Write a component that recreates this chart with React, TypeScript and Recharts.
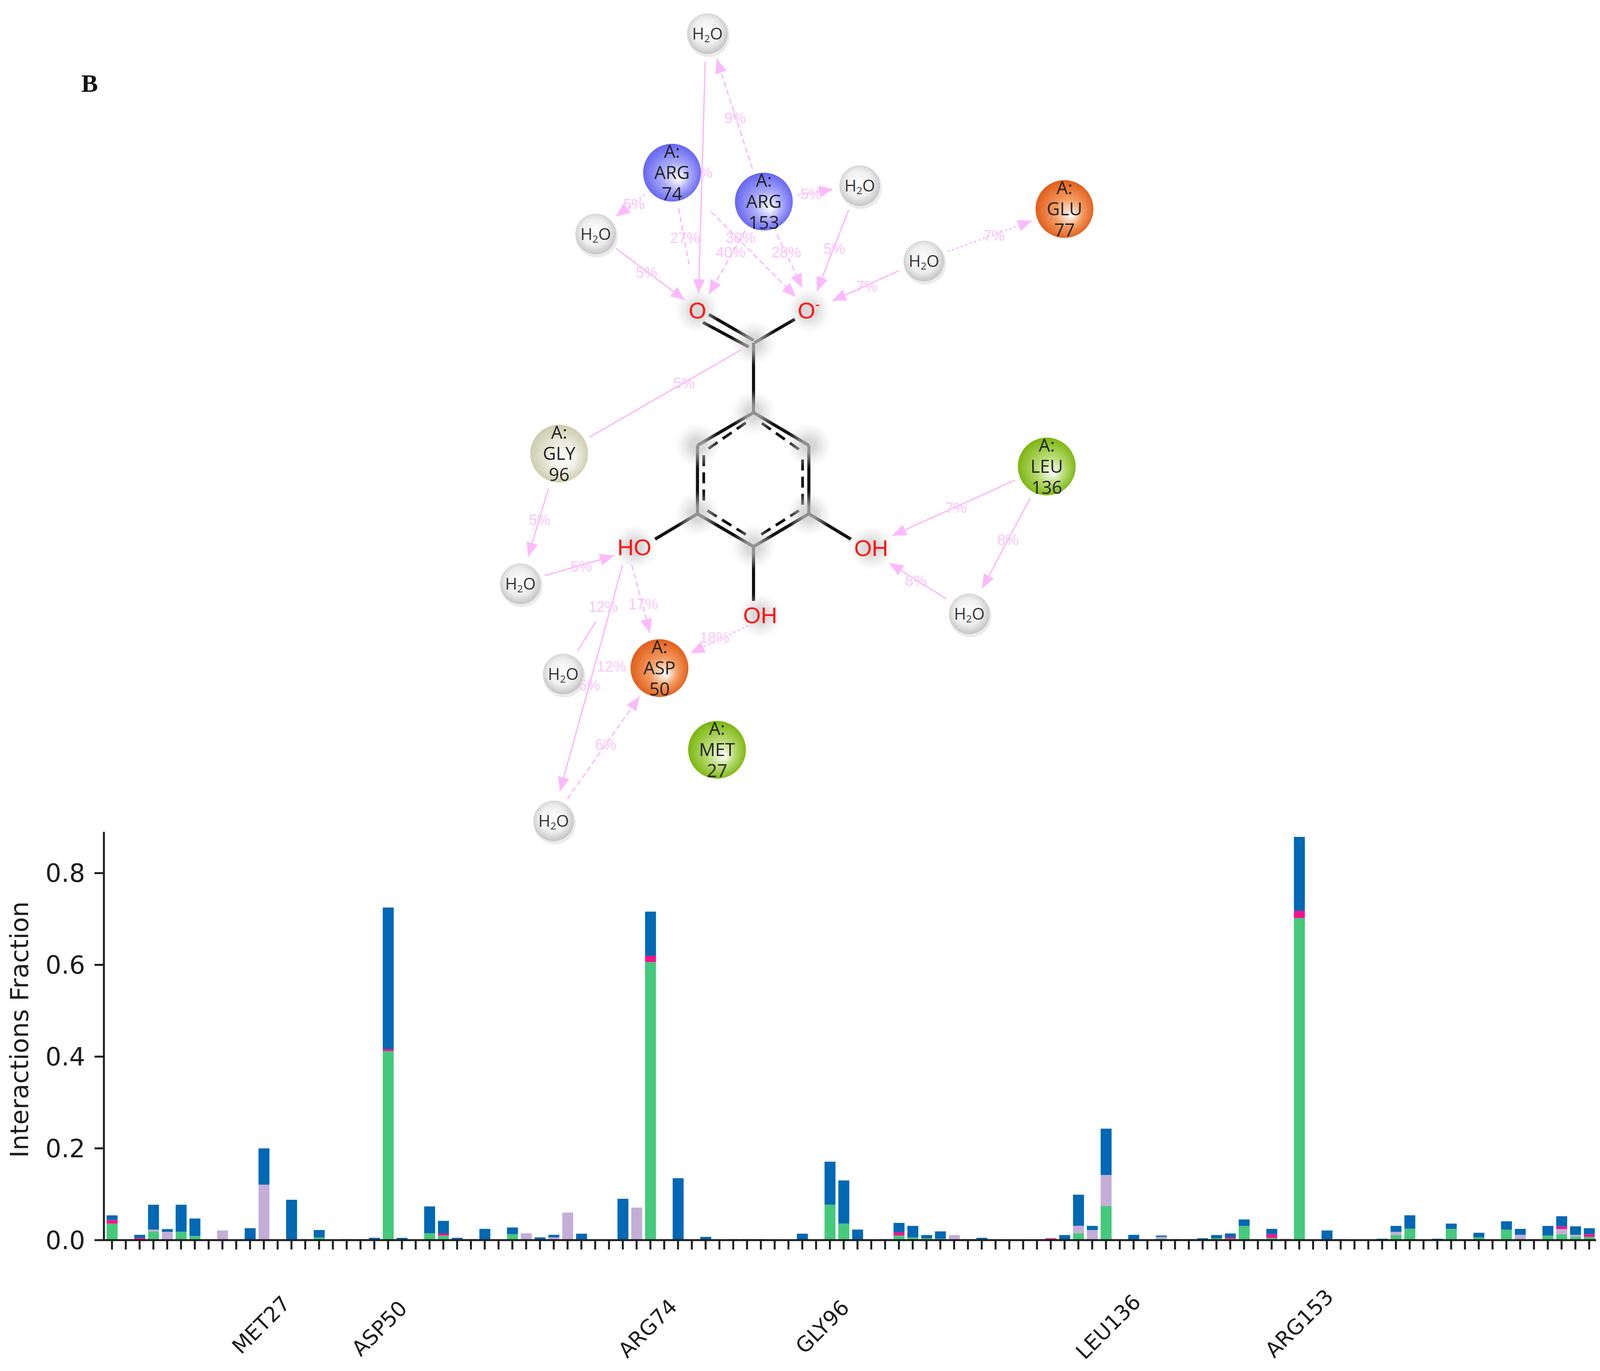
import { BarChart, Bar, XAxis, YAxis, Label, ScatterChart, Scatter, ReferenceLine } from 'recharts';

// the browser window stops at 4096 wide, the reference is 4338: x positions are compressed to fit
const WIDTH = 4096;
const HEIGHT = 3509;
const REF_WIDTH = 4338;

const hbonds = [
  0.036, 0, 0, 0.019, 0, 0.018, 0.009, 0, 0, 0, 0, 0,
  0, 0, 0, 0.006, 0, 0, 0, 0, 0.412, 0.001, 0, 0.015,
  0.01, 0, 0, 0, 0, 0.013, 0, 0, 0, 0, 0, 0,
  0, 0, 0, 0.606, 0, 0, 0, 0, 0, 0, 0, 0,
  0, 0, 0, 0, 0.077, 0.036, 0, 0, 0, 0.01, 0.006, 0.004,
  0.003, 0, 0, 0, 0, 0, 0, 0, 0, 0, 0.0145, 0,
  0.074, 0, 0.001, 0, 0.003, 0, 0, 0, 0.004, 0.003, 0.031, 0,
  0.005, 0, 0.702, 0, 0, 0, 0, 0, 0, 0.0115, 0.025, 0,
  0, 0.0245, 0, 0.006, 0, 0.023, 0.003, 0, 0.01, 0.013, 0.0075, 0.007,
];

const hydrophobic = [
  0, 0, 0, 0.004, 0.018, 0, 0, 0.002, 0.021, 0, 0, 0.121,
  0, 0, 0, 0, 0, 0, 0, 0, 0, 0, 0, 0,
  0, 0, 0, 0, 0, 0, 0.015, 0, 0.006, 0.06, 0, 0,
  0, 0, 0.071, 0, 0, 0, 0, 0, 0, 0, 0, 0,
  0, 0, 0, 0, 0, 0, 0, 0, 0, 0, 0, 0,
  0, 0.011, 0, 0, 0, 0, 0, 0, 0.002, 0, 0.0165, 0.022,
  0.068, 0, 0, 0, 0.004, 0, 0, 0, 0, 0, 0, 0,
  0, 0.003, 0, 0, 0, 0, 0, 0, 0, 0.0065, 0, 0,
  0, 0, 0.002, 0, 0, 0, 0.0085, 0, 0, 0.011, 0.004, 0,
];

const ionic = [
  0.008, 0, 0.005, 0, 0, 0, 0, 0, 0, 0, 0, 0,
  0, 0, 0, 0, 0, 0, 0.002, 0, 0.0045, 0, 0, 0,
  0.0045, 0.002, 0, 0, 0, 0, 0, 0, 0, 0, 0.002, 0,
  0, 0, 0, 0.014, 0, 0, 0, 0, 0, 0, 0, 0,
  0, 0, 0, 0, 0, 0, 0, 0, 0, 0.007, 0, 0,
  0, 0, 0, 0, 0, 0, 0, 0, 0.002, 0, 0, 0,
  0, 0, 0, 0, 0, 0, 0, 0, 0, 0.003, 0, 0,
  0.008, 0, 0.016, 0, 0, 0, 0, 0, 0, 0, 0, 0,
  0, 0, 0, 0, 0, 0, 0, 0, 0, 0.006, 0, 0.006,
];

const waterBridges = [
  0.01, 0, 0.0065, 0.054, 0.006, 0.059, 0.038, 0, 0, 0, 0.026, 0.079,
  0, 0.088, 0.002, 0.016, 0, 0.002, 0, 0.005, 0.3085, 0.004, 0.001, 0.0585,
  0.0275, 0.003, 0.002, 0.0245, 0.001, 0.0145, 0, 0.006, 0.0055, 0, 0.012, 0,
  0, 0.09, 0, 0.096, 0.002, 0.135, 0, 0.007, 0, 0.002, 0.002, 0.002,
  0, 0, 0.014, 0, 0.094, 0.094, 0.023, 0, 0.002, 0.0205, 0.025, 0.007,
  0.016, 0, 0.002, 0.005, 0, 0, 0, 0, 0, 0.011, 0.068, 0.009,
  0.101, 0, 0.0105, 0, 0.003, 0.002, 0.002, 0.004, 0.007, 0.0085, 0.014, 0.002,
  0.0115, 0, 0.161, 0, 0.021, 0.002, 0, 0, 0.003, 0.013, 0.029, 0,
  0.003, 0.0115, 0, 0.01, 0, 0.018, 0.013, 0.002, 0.021, 0.022, 0.0185, 0.013,
];

const yTicks = [0, 0.2, 0.4, 0.6, 0.8];

const tickResidues = ['MET27', 'ASP50', 'ARG74', 'GLY96', 'LEU136', 'ARG153'];
const tickSlots = [11, 20, 39, 52, 72, 86];
const tickNudge = [-7, -22, -7, -19, 6, 0];
const tickCentreY = [3391, 3400, 3400, 3396, 3396, 3387];

// ligand diagram, in reference image pixels on its own hidden axes
const residues = [
  { x: 1822, y: 442, lines: ['A:', 'ARG', '74'], edge: '#5b5bf0', mid: '#a9a9fb' },
  { x: 2071, y: 516, lines: ['A:', 'ARG', '153'], edge: '#5b5bf0', mid: '#a9a9fb' },
  { x: 2886, y: 535, lines: ['A:', 'GLU', '77'], edge: '#dd5510', mid: '#f59a60' },
  { x: 1516, y: 1161, lines: ['A:', 'GLY', '96'], edge: '#c8c8a8', mid: '#ecece0' },
  { x: 2838, y: 1194, lines: ['A:', 'LEU', '136'], edge: '#74b000', mid: '#b6da70' },
  { x: 1788, y: 1710, lines: ['A:', 'ASP', '50'], edge: '#dd5510', mid: '#f59a60' },
  { x: 1944, y: 1919, lines: ['A:', 'MET', '27'], edge: '#74b000', mid: '#b6da70' },
];

const waters = [
  { x: 1918, y: 86 },
  { x: 2331, y: 475 },
  { x: 1615, y: 599 },
  { x: 2505, y: 668 },
  { x: 1411, y: 1494 },
  { x: 2628, y: 1571 },
  { x: 1527, y: 1725 },
  { x: 1501, y: 2101 },
];

const atoms = [
  { x: 1891, y: 795, text: 'O' },
  { x: 2193, y: 795, text: 'O', sup: '-' },
  { x: 1720, y: 1401, text: 'HO' },
  { x: 2362, y: 1403, text: 'OH' },
  { x: 2061, y: 1575, text: 'OH' },
];

const halos = [
  { x: 1891, y: 795 }, { x: 2193, y: 795 }, { x: 2043, y: 877 }, { x: 2043, y: 1056 },
  { x: 1891, y: 1140 }, { x: 2193, y: 1140 }, { x: 1891, y: 1315 }, { x: 2193, y: 1315 },
  { x: 2043, y: 1399 }, { x: 1720, y: 1401 }, { x: 2362, y: 1403 }, { x: 2061, y: 1575 },
];

const bonds = [
  [2043, 877, 2043, 1056], [2046, 877, 2155, 817], [1922, 805, 2043, 871], [1906, 825, 2030, 888],
  [2043, 1056, 1891, 1140], [1891, 1140, 1891, 1315], [1891, 1315, 2043, 1399],
  [2043, 1399, 2193, 1315], [2193, 1315, 2193, 1140], [2193, 1140, 2043, 1056],
  [1891, 1315, 1776, 1380], [2193, 1315, 2307, 1380], [2043, 1399, 2043, 1538],
];

const aromatic = [
  [2022, 1082, 1918, 1150], [1908, 1165, 1908, 1292], [1918, 1307, 2022, 1368],
  [2064, 1368, 2166, 1307], [2176, 1292, 2176, 1165], [2166, 1150, 2064, 1082],
];

// x1, y1, x2, y2, dash, arrowhead
const links: [number, number, number, number, string, boolean][] = [
  [1912, 158, 1894, 751, '', true],
  [2040, 432, 1943, 151, '14 8', true],
  [1748, 498, 1670, 554, '6 6', true],
  [1840, 533, 1868, 677, '14 8', false],
  [1928, 542, 2158, 760, '14 8', true],
  [2020, 590, 1922, 753, '14 8', true],
  [2107, 600, 2175, 737, '14 8', true],
  [2163, 500, 2259, 484, '6 6', true],
  [2301, 537, 2215, 745, '', true],
  [1670, 636, 1857, 768, '', true],
  [2437, 693, 2256, 770, '', true],
  [2569, 644, 2798, 565, '6 6', true],
  [1598, 1119, 2010, 895, '', false],
  [1487, 1250, 1432, 1425, '', true],
  [1478, 1473, 1665, 1422, '', true],
  [1688, 1446, 1518, 2025, '', true],
  [1713, 1446, 1762, 1620, '14 8', true],
  [2029, 1601, 1872, 1672, '6 6', true],
  [1566, 1666, 1616, 1590, '', false],
  [1538, 2045, 1734, 1783, '14 8', true],
  [2752, 1229, 2419, 1371, '', true],
  [2793, 1275, 2663, 1506, '', true],
  [2566, 1533, 2411, 1441, '', true],
];

const linkLabels = [
  { x: 1903, y: 442, text: '5%' }, { x: 1993, y: 302, text: '9%' }, { x: 1719, y: 523, text: '5%' },
  { x: 1857, y: 609, text: '27%' }, { x: 2008, y: 609, text: '30%' }, { x: 1981, y: 646, text: '40%' },
  { x: 2132, y: 646, text: '28%' }, { x: 2199, y: 497, text: '5%' }, { x: 2262, y: 637, text: '5%' },
  { x: 1753, y: 698, text: '5%' }, { x: 2350, y: 733, text: '7%' }, { x: 2695, y: 603, text: '7%' },
  { x: 1855, y: 981, text: '5%' }, { x: 1463, y: 1331, text: '5%' }, { x: 1576, y: 1450, text: '5%' },
  { x: 1598, y: 1754, text: '6%' }, { x: 1744, y: 1546, text: '17%' }, { x: 1937, y: 1632, text: '18%' },
  { x: 1635, y: 1553, text: '12%' }, { x: 1658, y: 1706, text: '12%' }, { x: 1642, y: 1906, text: '6%' },
  { x: 2592, y: 1300, text: '7%' }, { x: 2733, y: 1382, text: '8%' }, { x: 2483, y: 1487, text: '8%' },
];

const panelLabel = [{ x: 243, y: 213, text: 'B' }];

const data = hbonds.map((v, i) => ({
  slot: i,
  hbonds: v,
  hydrophobic: hydrophobic[i],
  ionic: ionic[i],
  waterBridges: waterBridges[i],
}));

const PINK = '#fcbafc';
const AXIS = '#1d1d1d';

function ResidueTick({ x, payload }: any) {
  const at = tickSlots.indexOf(payload.value);
  if (at < 0) return null;
  const cx = x + tickNudge[at];
  const cy = tickCentreY[at];
  return (
    <text
      x={cx}
      y={cy}
      transform={`rotate(-45 ${cx} ${cy})`}
      textAnchor="middle"
      dominantBaseline="central"
      fontFamily="DejaVu Sans"
      fontSize={54}
      fill={AXIS}
    >
      {tickResidues[at]}
    </text>
  );
}

function LinkLine({ x1, y1, x2, y2, dash, arrow }: any) {
  const a = Math.atan2(y2 - y1, x2 - x1);
  const len = 36;
  const half = 15;
  const bx = x2 - len * Math.cos(a);
  const by = y2 - len * Math.sin(a);
  const nx = -Math.sin(a) * half;
  const ny = Math.cos(a) * half;
  return (
    <g>
      <line x1={x1} y1={y1} x2={x2} y2={y2} stroke={PINK} strokeWidth={3.5} strokeDasharray={dash || undefined} />
      {arrow && <polygon points={`${x2},${y2} ${bx + nx},${by + ny} ${bx - nx},${by - ny}`} fill={PINK} />}
    </g>
  );
}

function ResidueBall({ cx, cy, payload }: any) {
  const id = `res-${payload.lines[1]}-${payload.lines[2]}`;
  return (
    <g>
      <defs>
        <radialGradient id={id} cx="0.5" cy="0.5" r="0.55" fx="0.62" fy="0.62">
          <stop offset="0" stopColor="#ffffff" />
          <stop offset="0.45" stopColor={payload.mid} />
          <stop offset="1" stopColor={payload.edge} />
        </radialGradient>
      </defs>
      <circle cx={cx} cy={cy} r={74} fill={`url(#${id})`} />
      {payload.lines.map((t: string, i: number) => (
        <text
          key={t}
          x={cx}
          y={cy + (i - 1) * 54 + 16}
          textAnchor="middle"
          fontFamily="Open Sans"
          fontSize={46}
          fill="#222222"
        >
          {t}
        </text>
      ))}
    </g>
  );
}

function WaterBall({ cx, cy }: any) {
  return (
    <g>
      <defs>
        <radialGradient id="water" cx="0.48" cy="0.45" r="0.55">
          <stop offset="0" stopColor="#ffffff" />
          <stop offset="0.6" stopColor="#eeeeee" />
          <stop offset="1" stopColor="#c4c4c4" />
        </radialGradient>
      </defs>
      <circle cx={cx + 3} cy={cy + 6} r={54} fill="#dddddd" opacity={0.6} />
      <circle cx={cx} cy={cy} r={52} fill="url(#water)" />
      <text x={cx} y={cy + 15} textAnchor="middle" fontFamily="Open Sans" fontSize={42} fill="#333333">
        H<tspan fontSize={26} dy={7}>2</tspan><tspan dy={-7}>O</tspan>
      </text>
    </g>
  );
}

function AtomLabel({ cx, cy, payload }: any) {
  return (
    <text x={cx} y={cy + 20} textAnchor="middle" fontFamily="Liberation Sans" fontSize={58} fill="#ff1010">
      {payload.text}
      {payload.sup && <tspan fontSize={36} dy={-24}>{payload.sup}</tspan>}
    </text>
  );
}

function Halo({ cx, cy }: any) {
  return (
    <g>
      <defs>
        <radialGradient id="halo">
          <stop offset="0.3" stopColor="#c8c8c8" stopOpacity={0.7} />
          <stop offset="1" stopColor="#dddddd" stopOpacity={0} />
        </radialGradient>
      </defs>
      <circle cx={cx} cy={cy} r={58} fill="url(#halo)" />
    </g>
  );
}

function PinkText({ cx, cy, payload }: any) {
  return (
    <text x={cx} y={cy + 13} textAnchor="middle" fontFamily="Liberation Sans" fontSize={38} fill="#fbc6fb">
      {payload.text}
    </text>
  );
}

function PanelText({ cx, cy, payload }: any) {
  return (
    <text x={cx} y={cy + 22} textAnchor="middle" fontFamily="Liberation Serif" fontWeight="bold" fontSize={64} fill="#111111">
      {payload.text}
    </text>
  );
}

function YTitle() {
  return (
    <text
      x={50}
      y={2635}
      transform="rotate(-90 50 2635)"
      textAnchor="middle"
      dominantBaseline="central"
      fontFamily="DejaVu Sans"
      fontSize={64}
      fill={AXIS}
    >
      Interactions Fraction
    </text>
  );
}

function LigandDiagram() {
  return (
    <ScatterChart width={WIDTH} height={HEIGHT} margin={{ top: 0, right: 0, bottom: 0, left: 0 }}>
      <XAxis type="number" dataKey="x" domain={[0, REF_WIDTH]} hide />
      <YAxis type="number" dataKey="y" domain={[0, HEIGHT]} reversed hide />
      <Scatter data={halos} shape={Halo} isAnimationActive={false} />
      {links.map(([x1, y1, x2, y2, dash, arrow]) => (
        <ReferenceLine
          key={`${x1}-${y1}`}
          segment={[{ x: x1, y: y1 }, { x: x2, y: y2 }]}
          shape={(p: any) => <LinkLine {...p} dash={dash} arrow={arrow} />}
        />
      ))}
      {bonds.map(([x1, y1, x2, y2]) => (
        <ReferenceLine
          key={`b${x1}-${y1}-${x2}`}
          segment={[{ x: x1, y: y1 }, { x: x2, y: y2 }]}
          stroke="#111111"
          strokeWidth={8}
        />
      ))}
      {aromatic.map(([x1, y1, x2, y2]) => (
        <ReferenceLine
          key={`a${x1}-${y1}`}
          segment={[{ x: x1, y: y1 }, { x: x2, y: y2 }]}
          stroke="#111111"
          strokeWidth={7}
          strokeDasharray="28 16"
        />
      ))}
      <Scatter data={linkLabels} shape={PinkText} isAnimationActive={false} />
      <Scatter data={residues} shape={ResidueBall} isAnimationActive={false} />
      <Scatter data={waters} shape={WaterBall} isAnimationActive={false} />
      <Scatter data={atoms} shape={AtomLabel} isAnimationActive={false} />
      <Scatter data={panelLabel} shape={PanelText} isAnimationActive={false} />
    </ScatterChart>
  );
}

export default function App() {
  return (
    <div style={{ position: 'absolute', left: 0, top: 0, width: WIDTH, height: HEIGHT, background: '#ffffff' }}>
      <div style={{ position: 'absolute', left: 0, top: 0 }}>
        <BarChart width={WIDTH} height={HEIGHT} data={data} margin={{ top: 2129, right: 10, bottom: 0, left: 0 }}>
          <XAxis
            dataKey="slot"
            type="category"
            interval={0}
            height={335}
            padding={{ left: 3, right: 0 }}
            tick={<ResidueTick />}
            tickSize={24}
            tickLine={{ stroke: AXIS, strokeWidth: 5 }}
            axisLine={{ stroke: AXIS, strokeWidth: 5 }}
          />
          <YAxis
            width={266}
            domain={[0, 0.89]}
            ticks={yTicks}
            allowDataOverflow
            tickFormatter={(v: number) => v.toFixed(1)}
            tick={{ fill: AXIS, fontSize: 64, fontFamily: 'DejaVu Sans' }}
            tickSize={24}
            tickMargin={24}
            tickLine={{ stroke: AXIS, strokeWidth: 5 }}
            axisLine={{ stroke: AXIS, strokeWidth: 5 }}
          >
            <Label content={<YTitle />} />
          </YAxis>
          <Bar dataKey="hbonds" stackId="a" barSize={28} fill="#45c97c" isAnimationActive={false} />
          <Bar dataKey="hydrophobic" stackId="a" barSize={28} fill="#c4aed8" isAnimationActive={false} />
          <Bar dataKey="ionic" stackId="a" barSize={28} fill="#f5148c" isAnimationActive={false} />
          <Bar dataKey="waterBridges" stackId="a" barSize={28} fill="#0068b4" isAnimationActive={false} />
        </BarChart>
      </div>
      <div style={{ position: 'absolute', left: 0, top: 0 }}>
        <LigandDiagram />
      </div>
    </div>
  );
}
